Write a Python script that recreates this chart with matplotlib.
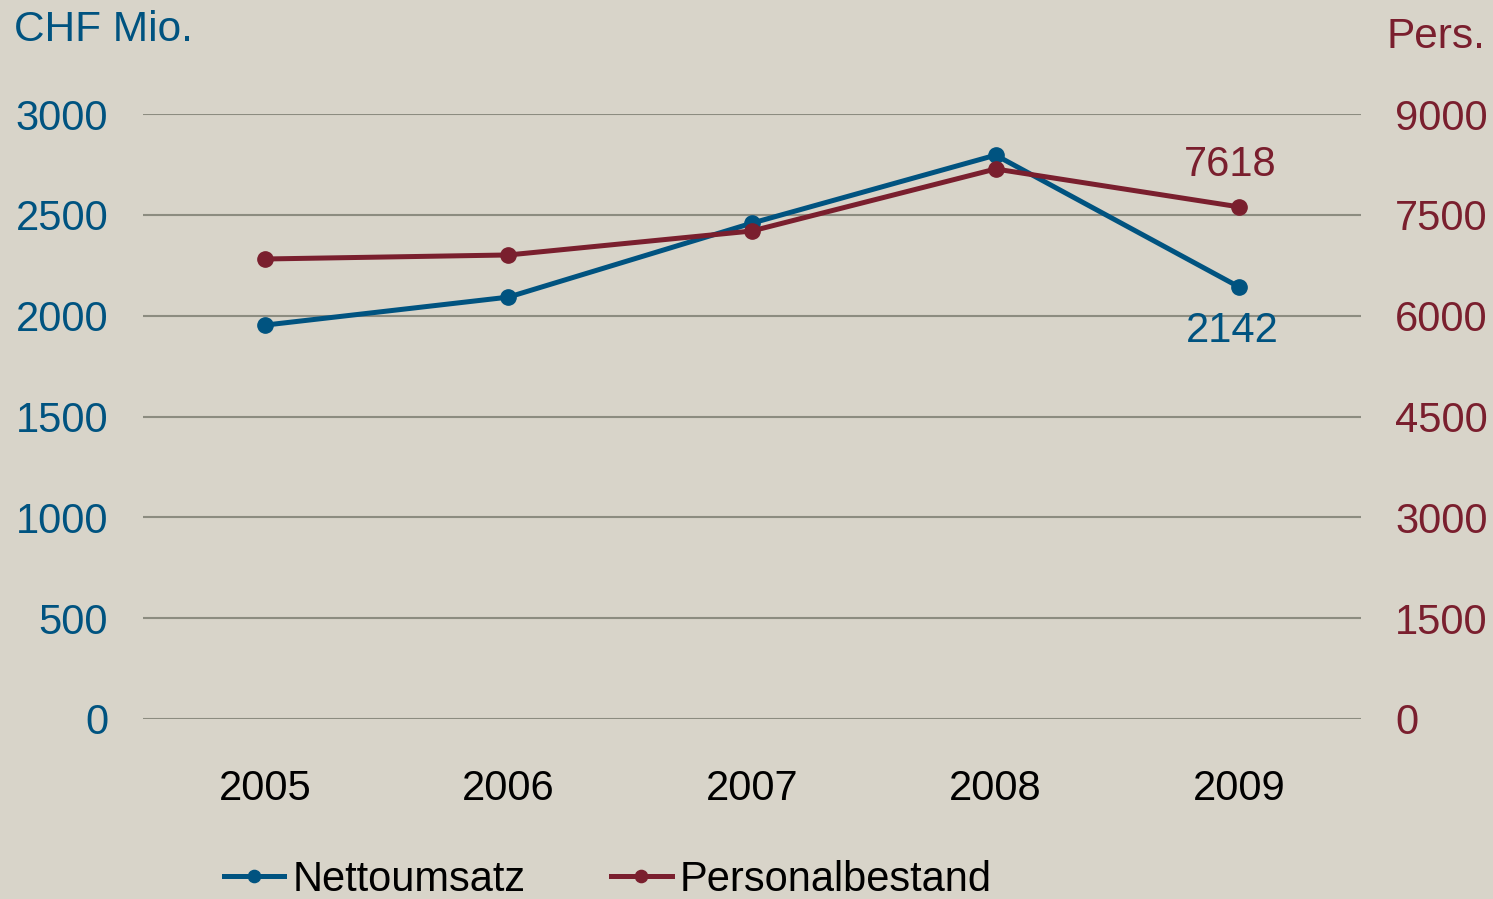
import matplotlib
matplotlib.use("Agg")
import matplotlib.pyplot as plt
from matplotlib import font_manager

years = ["2005", "2006", "2007", "2008", "2009"]
nettoumsatz = [1953, 2092, 2459, 2796, 2142]
personal = [6843, 6903, 7260, 8182, 7618]
left_ticks = [0, 500, 1000, 1500, 2000, 2500, 3000]
right_ticks = [0, 1500, 3000, 4500, 6000, 7500, 9000]

BG = "#D8D4C9"
BLUE = "#005380"
RED = "#7A1F2E"
GRID = "#8C8C80"

names = {f.name for f in font_manager.fontManager.ttflist}
narrow = "Liberation Sans Narrow" if "Liberation Sans Narrow" in names else None
plt.rcParams['font.family'] = ['Liberation Sans', 'DejaVu Sans']

fig = plt.figure(figsize=(14.93, 8.99), dpi=100, facecolor=BG)
ax = fig.add_axes([143/1493, 1-719/899, (1361-143)/1493, 605/899])
ax.set_facecolor(BG)
ax2 = ax.twinx()

x = list(range(len(years)))
ax.set_xlim(-0.5, 4.5)
ax.set_ylim(0, 3000)
ax2.set_ylim(0, 9000)
ax.set_yticks(left_ticks)
ax2.set_yticks(right_ticks)
ax.set_xticks(x)
ax.set_xticklabels(years)
for a in (ax, ax2):
    for s in a.spines.values():
        s.set_visible(False)
    a.tick_params(length=0)
ax.yaxis.grid(True, color=GRID, linewidth=1.5)
ax.set_axisbelow(True)
ax.tick_params(axis='y', labelsize=30, labelcolor=BLUE, pad=25)
ax.tick_params(axis='x', labelsize=30, labelcolor='black', pad=36)
ax2.tick_params(axis='y', labelsize=30, labelcolor=RED, pad=24.5)

l1, = ax.plot(x, nettoumsatz, color=BLUE, lw=3.6, marker='o', ms=11, zorder=3)
l2, = ax2.plot(x, personal, color=RED, lw=3.6, marker='o', ms=11, zorder=3)

ax2.annotate(f"{personal[-1]}", (x[-1], personal[-1]), xytext=(-6.5, 30), textcoords='offset points',
             ha='center', va='center', fontsize=30, color=RED)
ax.annotate(f"{nettoumsatz[-1]}", (x[-1], nettoumsatz[-1]), xytext=(-5, -32), textcoords='offset points',
            ha='center', va='center', fontsize=30, color=BLUE)

fig.text(14/1493, 1-30/899, "CHF Mio.", fontsize=30.5, color=BLUE, ha='left', va='center')
fig.text(1485/1493, 1-37/899, "Pers.", fontsize=30.5, color=RED, ha='right', va='center')

if narrow:
    lprop = {'family': narrow, 'size': 34}
else:
    lprop = {'size': 30}
leg = fig.legend([l1, l2], ["Nettoumsatz", "Personalbestand"], loc='center',
                 bbox_to_anchor=(608/1493, 1-880/899), ncol=2, frameon=False,
                 prop=lprop, handlelength=1.45, handletextpad=0.2,
                 columnspacing=2.05, markerscale=0.8)

fig.savefig("out.png", dpi=100, facecolor=BG)
